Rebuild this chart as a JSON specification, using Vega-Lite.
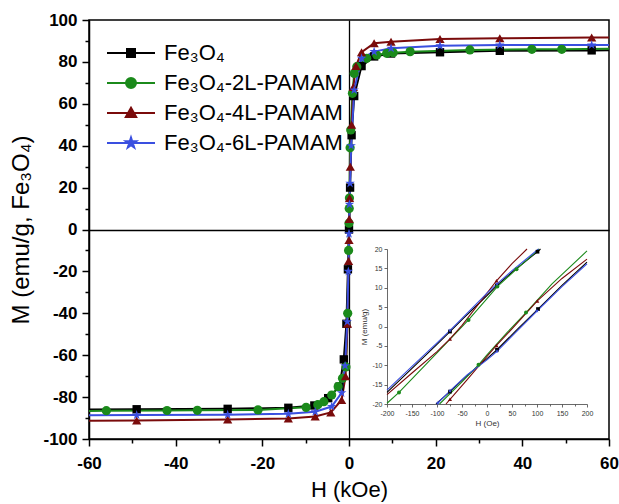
{
"$schema":"https://vega.github.io/schema/vega-lite/v6.json",
"width":520,"height":419,
"autosize":{"type":"none"},
"padding":{"left":89,"top":20,"right":10,"bottom":65},
"background":"white",
"config":{
 "font":"Liberation Sans",
 "view":{"stroke":"black","strokeWidth":1.5},
 "axis":{"labelFont":"Liberation Sans","titleFont":"Liberation Sans","labelColor":"black","titleColor":"black","tickColor":"black","domainColor":"black","labelFontWeight":"bold","labelFontSize":17,"titleFontWeight":"normal","titleFontSize":22,"domainWidth":1.5,"tickWidth":1.5,"labelOverlap":false,"labelFlush":false,"grid":false},
 "legend":{"labelFont":"Liberation Sans"}
},
"datasets":{
"main":[
{"s":"Fe₃O₄","H":-60,"M":-85.9},{"s":"Fe₃O₄","H":-49,"M":-85.8},{"s":"Fe₃O₄","H":-28,"M":-85.6},{"s":"Fe₃O₄","H":-14,"M":-85.1},{"s":"Fe₃O₄","H":-8,"M":-84.0},{"s":"Fe₃O₄","H":-4.8,"M":-80.5},{"s":"Fe₃O₄","H":-2.2,"M":-75},{"s":"Fe₃O₄","H":-1.2,"M":-62},{"s":"Fe₃O₄","H":-0.6,"M":-45},{"s":"Fe₃O₄","H":-0.25,"M":-19},{"s":"Fe₃O₄","H":0,"M":0},{"s":"Fe₃O₄","H":0.25,"M":20},{"s":"Fe₃O₄","H":0.6,"M":45},{"s":"Fe₃O₄","H":1.2,"M":63.7},{"s":"Fe₃O₄","H":2.9,"M":78},{"s":"Fe₃O₄","H":5.8,"M":82.6},{"s":"Fe₃O₄","H":9.7,"M":84.0},{"s":"Fe₃O₄","H":21,"M":84.6},{"s":"Fe₃O₄","H":34.8,"M":85.3},{"s":"Fe₃O₄","H":56,"M":85.5},{"s":"Fe₃O₄","H":60,"M":85.6},
{"s":"Fe₃O₄-2L-PAMAM","H":-60,"M":-86.6},{"s":"Fe₃O₄-2L-PAMAM","H":-56,"M":-86.5},{"s":"Fe₃O₄-2L-PAMAM","H":-42,"M":-86.4},{"s":"Fe₃O₄-2L-PAMAM","H":-35,"M":-86.3},{"s":"Fe₃O₄-2L-PAMAM","H":-21,"M":-86.1},{"s":"Fe₃O₄-2L-PAMAM","H":-9.9,"M":-84.9},{"s":"Fe₃O₄-2L-PAMAM","H":-7.2,"M":-83.6},{"s":"Fe₃O₄-2L-PAMAM","H":-5.8,"M":-82.2},{"s":"Fe₃O₄-2L-PAMAM","H":-4,"M":-79},{"s":"Fe₃O₄-2L-PAMAM","H":-2.5,"M":-75},{"s":"Fe₃O₄-2L-PAMAM","H":-1.5,"M":-71},{"s":"Fe₃O₄-2L-PAMAM","H":-0.7,"M":-65.6},{"s":"Fe₃O₄-2L-PAMAM","H":-0.3,"M":-40},{"s":"Fe₃O₄-2L-PAMAM","H":-0.1,"M":-10},{"s":"Fe₃O₄-2L-PAMAM","H":0,"M":3},{"s":"Fe₃O₄-2L-PAMAM","H":0.05,"M":10},{"s":"Fe₃O₄-2L-PAMAM","H":0.1,"M":15},{"s":"Fe₃O₄-2L-PAMAM","H":0.25,"M":39},{"s":"Fe₃O₄-2L-PAMAM","H":0.4,"M":47.5},{"s":"Fe₃O₄-2L-PAMAM","H":0.8,"M":65},{"s":"Fe₃O₄-2L-PAMAM","H":1.2,"M":74.5},{"s":"Fe₃O₄-2L-PAMAM","H":1.8,"M":77.7},{"s":"Fe₃O₄-2L-PAMAM","H":4.1,"M":81.7},{"s":"Fe₃O₄-2L-PAMAM","H":6.4,"M":83.3},{"s":"Fe₃O₄-2L-PAMAM","H":8.7,"M":84.1},{"s":"Fe₃O₄-2L-PAMAM","H":10.2,"M":84.4},{"s":"Fe₃O₄-2L-PAMAM","H":14.1,"M":84.9},{"s":"Fe₃O₄-2L-PAMAM","H":27.9,"M":85.7},{"s":"Fe₃O₄-2L-PAMAM","H":42.2,"M":86.0},{"s":"Fe₃O₄-2L-PAMAM","H":49.1,"M":86.0},{"s":"Fe₃O₄-2L-PAMAM","H":60,"M":86.3},
{"s":"Fe₃O₄-4L-PAMAM","H":-60,"M":-91.3},{"s":"Fe₃O₄-4L-PAMAM","H":-49,"M":-91.2},{"s":"Fe₃O₄-4L-PAMAM","H":-28,"M":-90.7},{"s":"Fe₃O₄-4L-PAMAM","H":-14,"M":-90.2},{"s":"Fe₃O₄-4L-PAMAM","H":-7.8,"M":-89.3},{"s":"Fe₃O₄-4L-PAMAM","H":-4.2,"M":-87.3},{"s":"Fe₃O₄-4L-PAMAM","H":-1.7,"M":-81.4},{"s":"Fe₃O₄-4L-PAMAM","H":-0.8,"M":-70},{"s":"Fe₃O₄-4L-PAMAM","H":-0.35,"M":-45},{"s":"Fe₃O₄-4L-PAMAM","H":-0.1,"M":-15},{"s":"Fe₃O₄-4L-PAMAM","H":0,"M":-5},{"s":"Fe₃O₄-4L-PAMAM","H":0.05,"M":5},{"s":"Fe₃O₄-4L-PAMAM","H":0.12,"M":15},{"s":"Fe₃O₄-4L-PAMAM","H":0.3,"M":30},{"s":"Fe₃O₄-4L-PAMAM","H":0.6,"M":50},{"s":"Fe₃O₄-4L-PAMAM","H":1,"M":68},{"s":"Fe₃O₄-4L-PAMAM","H":1.6,"M":78},{"s":"Fe₃O₄-4L-PAMAM","H":2.9,"M":84.6},{"s":"Fe₃O₄-4L-PAMAM","H":5.8,"M":88.9},{"s":"Fe₃O₄-4L-PAMAM","H":9.7,"M":89.6},{"s":"Fe₃O₄-4L-PAMAM","H":21,"M":90.9},{"s":"Fe₃O₄-4L-PAMAM","H":34.8,"M":91.3},{"s":"Fe₃O₄-4L-PAMAM","H":56,"M":91.7},{"s":"Fe₃O₄-4L-PAMAM","H":60,"M":91.7},
{"s":"Fe₃O₄-6L-PAMAM","H":-60,"M":-88.7},{"s":"Fe₃O₄-6L-PAMAM","H":-49,"M":-88.6},{"s":"Fe₃O₄-6L-PAMAM","H":-28,"M":-88.4},{"s":"Fe₃O₄-6L-PAMAM","H":-14,"M":-88.0},{"s":"Fe₃O₄-6L-PAMAM","H":-7.8,"M":-87.0},{"s":"Fe₃O₄-6L-PAMAM","H":-4,"M":-84.5},{"s":"Fe₃O₄-6L-PAMAM","H":-1.7,"M":-78},{"s":"Fe₃O₄-6L-PAMAM","H":-0.9,"M":-65},{"s":"Fe₃O₄-6L-PAMAM","H":-0.4,"M":-44},{"s":"Fe₃O₄-6L-PAMAM","H":-0.15,"M":-20},{"s":"Fe₃O₄-6L-PAMAM","H":0,"M":-2},{"s":"Fe₃O₄-6L-PAMAM","H":0.1,"M":12},{"s":"Fe₃O₄-6L-PAMAM","H":0.25,"M":22},{"s":"Fe₃O₄-6L-PAMAM","H":0.5,"M":40},{"s":"Fe₃O₄-6L-PAMAM","H":1.2,"M":66.6},{"s":"Fe₃O₄-6L-PAMAM","H":2.9,"M":81.7},{"s":"Fe₃O₄-6L-PAMAM","H":5.8,"M":84.9},{"s":"Fe₃O₄-6L-PAMAM","H":9.7,"M":86.5},{"s":"Fe₃O₄-6L-PAMAM","H":21,"M":87.7},{"s":"Fe₃O₄-6L-PAMAM","H":34.8,"M":88.1},{"s":"Fe₃O₄-6L-PAMAM","H":56,"M":88.1},{"s":"Fe₃O₄-6L-PAMAM","H":60,"M":88.1}
],
"inset":[
{"s":"Fe₃O₄","b":"u","H":-200,"M":-17.0},{"s":"Fe₃O₄","b":"u","H":-150,"M":-10.8},{"s":"Fe₃O₄","b":"u","H":-100,"M":-4.6},{"s":"Fe₃O₄","b":"u","H":-74,"M":-1.3},{"s":"Fe₃O₄","b":"u","H":-50,"M":1.8},{"s":"Fe₃O₄","b":"u","H":0,"M":8.0},{"s":"Fe₃O₄","b":"u","H":20,"M":10.6},{"s":"Fe₃O₄","b":"u","H":50,"M":14.0},{"s":"Fe₃O₄","b":"u","H":101,"M":19.3},{"s":"Fe₃O₄","b":"u","H":107,"M":20},
{"s":"Fe₃O₄","b":"d","H":-102,"M":-20},{"s":"Fe₃O₄","b":"d","H":-74,"M":-16.8},{"s":"Fe₃O₄","b":"d","H":-40,"M":-12.7},{"s":"Fe₃O₄","b":"d","H":0,"M":-8.3},{"s":"Fe₃O₄","b":"d","H":20,"M":-6.0},{"s":"Fe₃O₄","b":"d","H":60,"M":-0.8},{"s":"Fe₃O₄","b":"d","H":102,"M":4.5},{"s":"Fe₃O₄","b":"d","H":150,"M":10.6},{"s":"Fe₃O₄","b":"d","H":200,"M":16.6},
{"s":"Fe₃O₄-2L-PAMAM","b":"u","H":-200,"M":-19.8},{"s":"Fe₃O₄-2L-PAMAM","b":"u","H":-176,"M":-17.0},{"s":"Fe₃O₄-2L-PAMAM","b":"u","H":-100,"M":-6.8},{"s":"Fe₃O₄-2L-PAMAM","b":"u","H":-37,"M":1.7},{"s":"Fe₃O₄-2L-PAMAM","b":"u","H":0,"M":7.2},{"s":"Fe₃O₄-2L-PAMAM","b":"u","H":20.7,"M":10.3},{"s":"Fe₃O₄-2L-PAMAM","b":"u","H":59,"M":14.8},{"s":"Fe₃O₄-2L-PAMAM","b":"u","H":100,"M":19.5},{"s":"Fe₃O₄-2L-PAMAM","b":"u","H":104,"M":20},
{"s":"Fe₃O₄-2L-PAMAM","b":"d","H":-95,"M":-20},{"s":"Fe₃O₄-2L-PAMAM","b":"d","H":-50,"M":-14.3},{"s":"Fe₃O₄-2L-PAMAM","b":"d","H":-17,"M":-9.9},{"s":"Fe₃O₄-2L-PAMAM","b":"d","H":0,"M":-7.3},{"s":"Fe₃O₄-2L-PAMAM","b":"d","H":40,"M":-1.6},{"s":"Fe₃O₄-2L-PAMAM","b":"d","H":78,"M":3.6},{"s":"Fe₃O₄-2L-PAMAM","b":"d","H":130,"M":11.0},{"s":"Fe₃O₄-2L-PAMAM","b":"d","H":200,"M":19.5},
{"s":"Fe₃O₄-4L-PAMAM","b":"u","H":-200,"M":-17.6},{"s":"Fe₃O₄-4L-PAMAM","b":"u","H":-150,"M":-12.0},{"s":"Fe₃O₄-4L-PAMAM","b":"u","H":-100,"M":-6.5},{"s":"Fe₃O₄-4L-PAMAM","b":"u","H":-74,"M":-3.2},{"s":"Fe₃O₄-4L-PAMAM","b":"u","H":-50,"M":0.3},{"s":"Fe₃O₄-4L-PAMAM","b":"u","H":0,"M":8.6},{"s":"Fe₃O₄-4L-PAMAM","b":"u","H":19,"M":11.8},{"s":"Fe₃O₄-4L-PAMAM","b":"u","H":50,"M":16.2},{"s":"Fe₃O₄-4L-PAMAM","b":"u","H":80,"M":20},
{"s":"Fe₃O₄-4L-PAMAM","b":"d","H":-82,"M":-20},{"s":"Fe₃O₄-4L-PAMAM","b":"d","H":-74,"M":-18.8},{"s":"Fe₃O₄-4L-PAMAM","b":"d","H":-40,"M":-13.8},{"s":"Fe₃O₄-4L-PAMAM","b":"d","H":0,"M":-7.7},{"s":"Fe₃O₄-4L-PAMAM","b":"d","H":19,"M":-4.9},{"s":"Fe₃O₄-4L-PAMAM","b":"d","H":50,"M":-0.6},{"s":"Fe₃O₄-4L-PAMAM","b":"d","H":100.6,"M":6.6},{"s":"Fe₃O₄-4L-PAMAM","b":"d","H":150,"M":12.4},{"s":"Fe₃O₄-4L-PAMAM","b":"d","H":200,"M":17.4},
{"s":"Fe₃O₄-6L-PAMAM","b":"u","H":-200,"M":-16.4},{"s":"Fe₃O₄-6L-PAMAM","b":"u","H":-150,"M":-10.3},{"s":"Fe₃O₄-6L-PAMAM","b":"u","H":-100,"M":-4.2},{"s":"Fe₃O₄-6L-PAMAM","b":"u","H":-74,"M":-1.0},{"s":"Fe₃O₄-6L-PAMAM","b":"u","H":-50,"M":2.1},{"s":"Fe₃O₄-6L-PAMAM","b":"u","H":0,"M":8.6},{"s":"Fe₃O₄-6L-PAMAM","b":"u","H":20,"M":11.0},{"s":"Fe₃O₄-6L-PAMAM","b":"u","H":50,"M":14.4},{"s":"Fe₃O₄-6L-PAMAM","b":"u","H":100,"M":19.7},{"s":"Fe₃O₄-6L-PAMAM","b":"u","H":103,"M":20},
{"s":"Fe₃O₄-6L-PAMAM","b":"d","H":-100.5,"M":-20},{"s":"Fe₃O₄-6L-PAMAM","b":"d","H":-74,"M":-16.6},{"s":"Fe₃O₄-6L-PAMAM","b":"d","H":-40,"M":-12.5},{"s":"Fe₃O₄-6L-PAMAM","b":"d","H":0,"M":-8.6},{"s":"Fe₃O₄-6L-PAMAM","b":"d","H":20,"M":-6.4},{"s":"Fe₃O₄-6L-PAMAM","b":"d","H":60,"M":-1.2},{"s":"Fe₃O₄-6L-PAMAM","b":"d","H":100,"M":4.0},{"s":"Fe₃O₄-6L-PAMAM","b":"d","H":150,"M":10.3},{"s":"Fe₃O₄-6L-PAMAM","b":"d","H":200,"M":16.2}
],
"insetpts":[
{"s":"Fe₃O₄","H":-74,"M":-1.3},{"s":"Fe₃O₄","H":20,"M":10.6},{"s":"Fe₃O₄","H":101,"M":19.3},{"s":"Fe₃O₄","H":-74,"M":-16.8},{"s":"Fe₃O₄","H":20,"M":-6.0},{"s":"Fe₃O₄","H":102,"M":4.5},
{"s":"Fe₃O₄-2L-PAMAM","H":-176,"M":-17.0},{"s":"Fe₃O₄-2L-PAMAM","H":-37,"M":1.7},{"s":"Fe₃O₄-2L-PAMAM","H":20.7,"M":10.3},{"s":"Fe₃O₄-2L-PAMAM","H":59,"M":14.8},{"s":"Fe₃O₄-2L-PAMAM","H":-17,"M":-9.9},{"s":"Fe₃O₄-2L-PAMAM","H":78,"M":3.6},
{"s":"Fe₃O₄-4L-PAMAM","H":-74,"M":-3.2},{"s":"Fe₃O₄-4L-PAMAM","H":19,"M":11.8},{"s":"Fe₃O₄-4L-PAMAM","H":-74,"M":-18.8},{"s":"Fe₃O₄-4L-PAMAM","H":19,"M":-4.9},{"s":"Fe₃O₄-4L-PAMAM","H":100.6,"M":6.6},
{"s":"Fe₃O₄-6L-PAMAM","H":-74,"M":-1.0},{"s":"Fe₃O₄-6L-PAMAM","H":20,"M":11.0},{"s":"Fe₃O₄-6L-PAMAM","H":-98,"M":-19.7},{"s":"Fe₃O₄-6L-PAMAM","H":-74,"M":-16.6},{"s":"Fe₃O₄-6L-PAMAM","H":20,"M":-6.4},{"s":"Fe₃O₄-6L-PAMAM","H":100,"M":4.0}
]
},
"layer":[
{"data":{"name":"main"},
 "encoding":{
  "x":{"field":"H","type":"quantitative","scale":{"domain":[-60,60],"nice":false,"zero":false},
   "axis":{"values":[-60,-50,-40,-30,-20,-10,0,10,20,30,40,50,60],"labelExpr":"datum.value % 20 === 0 ? '' + datum.value : ''","tickSize":{"condition":{"test":"datum.value % 20 === 0","value":7},"value":4},"title":"H (kOe)","labelPadding":9,"titlePadding":8,"grid":true,"gridColor":"black","gridWidth":1.3,"gridOpacity":{"condition":{"test":"datum.value === 0","value":1},"value":0}}},
  "y":{"field":"M","type":"quantitative","scale":{"domain":[-100,100],"nice":false,"zero":false},
   "axis":{"values":[-100,-90,-80,-70,-60,-50,-40,-30,-20,-10,0,10,20,30,40,50,60,70,80,90,100],"labelExpr":"datum.value % 20 === 0 ? '' + datum.value : ''","tickSize":{"condition":{"test":"datum.value % 20 === 0","value":7},"value":4},"title":"M (emu/g, Fe₃O₄)","titleFontSize":24,"labelPadding":5,"titlePadding":9,"grid":true,"gridColor":"black","gridWidth":1.3,"gridOpacity":{"condition":{"test":"datum.value === 0","value":1},"value":0}}},
  "color":{"field":"s","type":"nominal","scale":{"domain":["Fe₃O₄","Fe₃O₄-2L-PAMAM","Fe₃O₄-4L-PAMAM","Fe₃O₄-6L-PAMAM"],"range":["#000000","#1b8a1b","#7a0b0b","#3a4fe0"]},
   "legend":{"orient":"none","legendX":31,"legendY":22,"title":null,"labelFontSize":22,"labelColor":"black","symbolSize":64,"labelOffset":22,"rowPadding":8,"padding":0,"symbolStrokeWidth":2,"symbolOpacity":1,"labelLimit":400}}
 },
 "layer":[
  {"mark":{"type":"line","strokeWidth":2}},
  {"transform":[{"filter":"datum.s === 'Fe₃O₄' && datum.H > -59 && datum.H < 59"}],
   "mark":{"type":"point","filled":true,"opacity":1,"size":70,"shape":"square"}},
  {"transform":[{"filter":"datum.s === 'Fe₃O₄-2L-PAMAM' && datum.H > -59 && datum.H < 59"}],
   "mark":{"type":"point","filled":true,"opacity":1,"size":85,"shape":"circle"}},
  {"transform":[{"filter":"datum.s === 'Fe₃O₄-4L-PAMAM' && datum.H > -59 && datum.H < 59"}],
   "mark":{"type":"point","filled":true,"opacity":1,"size":85,"shape":"triangle-up"}},
  {"transform":[{"filter":"datum.s === 'Fe₃O₄-6L-PAMAM' && datum.H > -59 && datum.H < 59"}],
   "mark":{"type":"point","filled":true,"opacity":1,"size":100,"shape":"M0,-1L0.225,-0.309L0.951,-0.309L0.363,0.118L0.588,0.809L0,0.382L-0.588,0.809L-0.363,0.118L-0.951,-0.309L-0.225,-0.309Z"}},
  {"mark":{"type":"point","filled":true,"opacity":0},
   "encoding":{
    "stroke":{"field":"s","type":"nominal","scale":{"domain":["Fe₃O₄","Fe₃O₄-2L-PAMAM","Fe₃O₄-4L-PAMAM","Fe₃O₄-6L-PAMAM"],"range":["#000000","#1b8a1b","#7a0b0b","#3a4fe0"]},
     "legend":{"orient":"none","legendX":31,"legendY":22,"title":null,"labelFontSize":22,"labelColor":"black","symbolSize":64,"labelOffset":22,"rowPadding":8,"padding":0,"symbolStrokeWidth":2,"symbolOpacity":1,"labelLimit":400}},
    "shape":{"field":"s","type":"nominal","scale":{"domain":["Fe₃O₄","Fe₃O₄-2L-PAMAM","Fe₃O₄-4L-PAMAM","Fe₃O₄-6L-PAMAM"],"range":["M-6,0H6M-1,-1H1V1H-1Z","M-6,0H6M-1.25,0A1.25,1.25,0,1,0,1.25,0A1.25,1.25,0,1,0,-1.25,0Z","M-6,0H6M0,-1.3L1.3,1H-1.3Z","M-6,0H6M0,-1.35L0.3,-0.42L1.28,-0.42L0.49,0.16L0.79,1.09L0,0.52L-0.79,1.09L-0.49,0.16L-1.28,-0.42L-0.3,-0.42Z"]},
     "legend":{"orient":"none","legendX":31,"legendY":22,"title":null,"labelFontSize":22,"labelColor":"black","symbolSize":64,"labelOffset":22,"rowPadding":8,"padding":0,"symbolStrokeWidth":2,"symbolOpacity":1,"labelLimit":400}}
   }}
 ]},
{"data":{"name":"inset"},
 "encoding":{
  "x":{"field":"H","type":"quantitative","scale":{"domain":[-200,200],"range":[298,498],"nice":false,"zero":false},
   "axis":{"orient":"bottom","offset":-35,"values":[-200,-175,-150,-125,-100,-75,-50,-25,0,25,50,75,100,125,150,175,200],"labelExpr":"datum.value % 50 === 0 ? '' + datum.value : ''","tickSize":{"condition":{"test":"datum.value % 50 === 0","value":3},"value":2},"labelFontSize":7,"labelFontWeight":"normal","labelColor":"#333333","labelPadding":2,"tickColor":"#444444","tickWidth":0.8,"domainColor":"#444444","domainWidth":0.8,"title":"H (Oe)","titleFontSize":8,"titleColor":"#333333","titlePadding":3,"grid":false}},
  "y":{"field":"M","type":"quantitative","scale":{"domain":[-20,20],"range":[384,229],"nice":false,"zero":false},
   "axis":{"orient":"left","offset":-298,"values":[-20,-15,-10,-5,0,5,10,15,20],"labelExpr":"'' + datum.value","tickSize":3,"labelFontSize":7,"labelFontWeight":"normal","labelColor":"#333333","labelPadding":2,"tickColor":"#444444","tickWidth":0.8,"domainColor":"#444444","domainWidth":0.8,"title":"M (emu/g)","titleFontSize":8,"titleColor":"#333333","titlePadding":3,"grid":false}},
  "color":{"field":"s","type":"nominal"}
 },
 "layer":[
  {"data":{"values":[{}]},
   "mark":{"type":"rule","strokeWidth":0.9},
   "encoding":{
    "x":{"datum":-200,"type":"quantitative"},
    "x2":{"datum":200},
    "y":{"datum":0,"type":"quantitative"},
    "color":{"value":"#555555"}}},
  {"data":{"values":[{}]},
   "mark":{"type":"rule","strokeWidth":0.9},
   "encoding":{
    "x":{"datum":0,"type":"quantitative"},
    "y":{"datum":-20,"type":"quantitative"},
    "y2":{"datum":20},
    "color":{"value":"#555555"}}},
  {"mark":{"type":"line","strokeWidth":1.1},
   "encoding":{"detail":{"field":"b"}}},
  {"data":{"name":"insetpts"},"transform":[{"filter":"datum.s === 'Fe₃O₄'"}],
   "mark":{"type":"point","filled":true,"opacity":1,"size":14,"shape":"square"}},
  {"data":{"name":"insetpts"},"transform":[{"filter":"datum.s === 'Fe₃O₄-2L-PAMAM'"}],
   "mark":{"type":"point","filled":true,"opacity":1,"size":16,"shape":"circle"}},
  {"data":{"name":"insetpts"},"transform":[{"filter":"datum.s === 'Fe₃O₄-4L-PAMAM'"}],
   "mark":{"type":"point","filled":true,"opacity":1,"size":16,"shape":"triangle-up"}},
  {"data":{"name":"insetpts"},"transform":[{"filter":"datum.s === 'Fe₃O₄-6L-PAMAM'"}],
   "mark":{"type":"point","filled":true,"opacity":1,"size":20,"shape":"M0,-1L0.225,-0.309L0.951,-0.309L0.363,0.118L0.588,0.809L0,0.382L-0.588,0.809L-0.363,0.118L-0.951,-0.309L-0.225,-0.309Z"}}
 ]}
],
"resolve":{"scale":{"x":"independent","y":"independent"}}
}
